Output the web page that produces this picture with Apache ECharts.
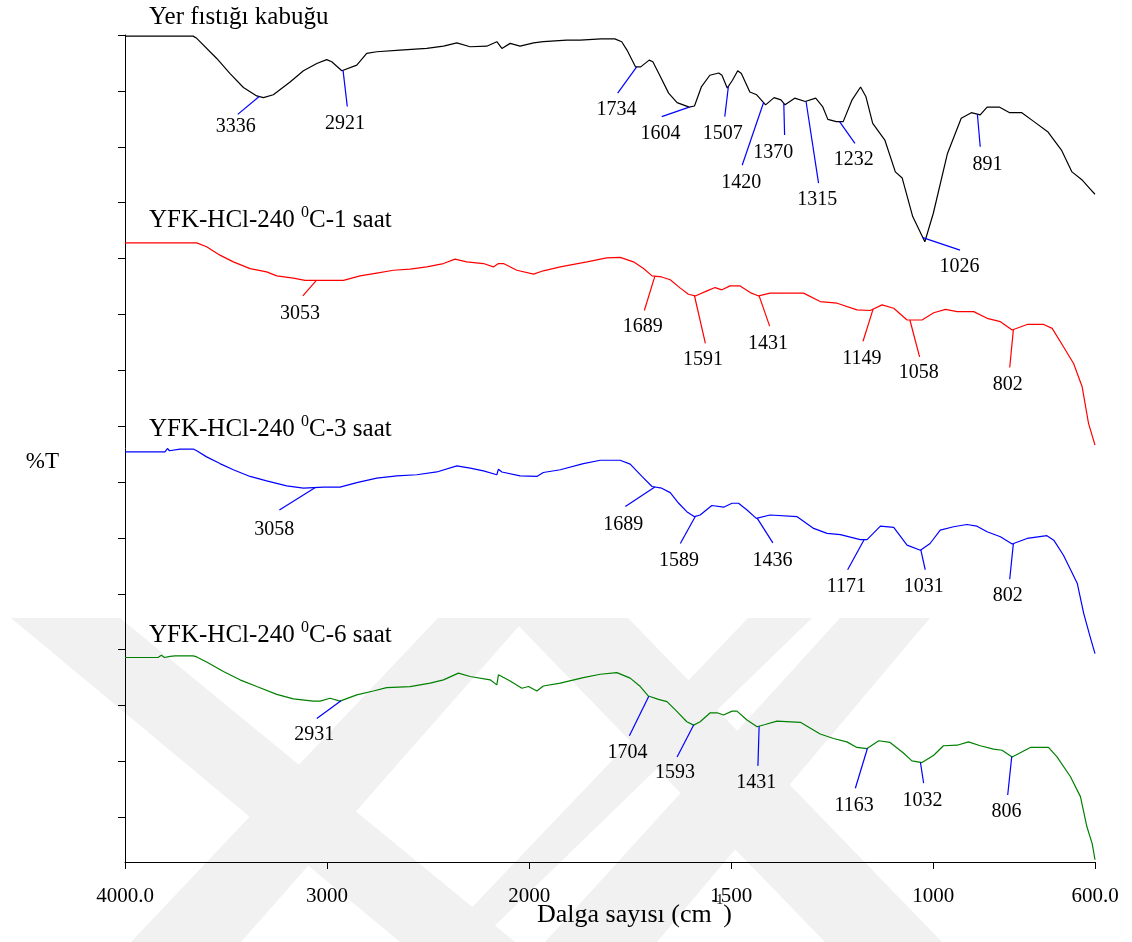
<!DOCTYPE html>
<html>
<head>
<meta charset="utf-8">
<title>FTIR - Yer fıstığı kabuğu</title>
<script src="https://cdn.jsdelivr.net/npm/echarts@6/dist/echarts.min.js"></script>
<style>
  html, body { margin: 0; padding: 0; background: #fff; }
  #ftir { width: 1132px; height: 942px; }
</style>
</head>
<body>
<div id="ftir"></div>
<script>
// wavenumber axis: 1000 cm-1 per division above 2000, 500 cm-1 per division below
const xTickNums = [4000, 3000, 2000, 1500, 1000, 600];
const xTickLabels = ['4000.0', '3000', '2000', '1500', '1000', '600.0'];
const yTicks = [0.8, 1.8, 2.8, 3.8, 4.8, 5.8, 6.8, 7.8, 8.8, 9.8, 10.8, 11.8, 12.8, 13.8, 14.8];

// [wavenumber, %T (offset)]
const rawShell = [
  [4000, 14.78], [3663, 14.78], [3645, 14.74], [3546, 14.38], [3480, 14.11], [3414, 13.86], [3348, 13.71],
  [3315, 13.68], [3266, 13.73], [3183, 13.96], [3117, 14.16], [3051, 14.29], [3002, 14.36], [2977, 14.32],
  [2927, 14.16], [2853, 14.26], [2804, 14.47], [2754, 14.50], [2639, 14.53], [2507, 14.56], [2424, 14.60],
  [2358, 14.66], [2292, 14.59], [2210, 14.60], [2160, 14.68], [2135, 14.56], [2094, 14.65], [2045, 14.60],
  [1989, 14.66], [1965, 14.68], [1907, 14.71], [1874, 14.71], [1822, 14.73], [1788, 14.73], [1771, 14.68],
  [1758, 14.53], [1737, 14.23], [1724, 14.23], [1703, 14.35], [1694, 14.32], [1677, 14.08], [1655, 13.76],
  [1634, 13.59], [1604, 13.51], [1591, 13.53], [1574, 13.87], [1553, 14.08], [1531, 14.12], [1523, 14.08],
  [1510, 13.85], [1497, 13.99], [1484, 14.16], [1475, 14.11], [1454, 13.78], [1437, 13.73], [1415, 13.55],
  [1394, 13.68], [1377, 13.64], [1367, 13.55], [1343, 13.67], [1317, 13.61], [1291, 13.67], [1274, 13.52],
  [1261, 13.29], [1240, 13.25], [1223, 13.25], [1201, 13.64], [1180, 13.87], [1167, 13.70], [1150, 13.22],
  [1120, 12.92], [1094, 12.35], [1077, 12.24], [1051, 11.55], [1021, 11.10], [1000, 11.61], [965, 12.68],
  [931, 13.31], [906, 13.41], [884, 13.37], [867, 13.51], [837, 13.51], [811, 13.41], [781, 13.41],
  [751, 13.25], [717, 13.07], [683, 12.74], [657, 12.35], [631, 12.20], [610, 12.03], [600, 11.95]
];
const hcl1h = [
  [4000, 11.08], [3663, 11.08], [3645, 11.08], [3596, 11.01], [3530, 10.86], [3464, 10.74], [3381, 10.62],
  [3299, 10.56], [3249, 10.49], [3167, 10.45], [3109, 10.41], [2919, 10.41], [2837, 10.49], [2754, 10.54],
  [2672, 10.59], [2589, 10.61], [2507, 10.65], [2424, 10.71], [2367, 10.79], [2309, 10.74], [2226, 10.71],
  [2177, 10.65], [2152, 10.71], [2127, 10.71], [2061, 10.59], [1989, 10.52], [1965, 10.58], [1923, 10.65],
  [1857, 10.74], [1808, 10.81], [1775, 10.82], [1742, 10.74], [1717, 10.62], [1696, 10.49], [1672, 10.47],
  [1651, 10.42], [1626, 10.27], [1606, 10.16], [1589, 10.13], [1560, 10.22], [1540, 10.28], [1523, 10.24],
  [1503, 10.31], [1478, 10.31], [1453, 10.19], [1432, 10.13], [1404, 10.18], [1321, 10.18], [1280, 10.03],
  [1238, 10.00], [1189, 9.88], [1156, 9.87], [1127, 9.97], [1098, 9.91], [1065, 9.70], [1028, 9.70],
  [999, 9.83], [970, 9.89], [941, 9.85], [900, 9.85], [867, 9.73], [834, 9.67], [805, 9.52], [768, 9.62],
  [727, 9.62], [706, 9.55], [678, 9.22], [653, 8.92], [632, 8.51], [616, 7.85], [600, 7.46]
];
const hcl3h = [
  [4000, 7.34], [3802, 7.34], [3790, 7.40], [3780, 7.36], [3728, 7.39], [3662, 7.39], [3645, 7.36],
  [3596, 7.25], [3530, 7.13], [3464, 7.02], [3381, 6.90], [3299, 6.82], [3200, 6.73], [3117, 6.69],
  [3018, 6.71], [2936, 6.71], [2853, 6.79], [2754, 6.87], [2655, 6.91], [2556, 6.93], [2457, 6.98],
  [2358, 7.09], [2292, 7.05], [2226, 7.00], [2160, 6.93], [2152, 7.03], [2135, 6.98], [2045, 6.91],
  [1981, 6.90], [1965, 6.97], [1923, 7.02], [1866, 7.13], [1824, 7.19], [1775, 7.19], [1750, 7.12],
  [1721, 6.90], [1696, 6.72], [1672, 6.69], [1651, 6.61], [1630, 6.42], [1610, 6.27], [1591, 6.18],
  [1577, 6.21], [1548, 6.38], [1519, 6.35], [1498, 6.42], [1482, 6.42], [1461, 6.30], [1438, 6.15],
  [1404, 6.21], [1337, 6.18], [1296, 5.97], [1263, 5.88], [1230, 5.86], [1181, 5.77], [1164, 5.77],
  [1131, 6.01], [1098, 5.99], [1065, 5.67], [1032, 5.58], [1008, 5.70], [983, 5.94], [950, 6.00],
  [917, 6.04], [892, 6.01], [867, 5.91], [834, 5.82], [805, 5.69], [768, 5.79], [719, 5.84], [702, 5.76],
  [678, 5.49], [644, 4.99], [628, 4.45], [612, 4.03], [600, 3.73]
];
const hcl6h = [
  [4000, 3.66], [3837, 3.66], [3820, 3.70], [3805, 3.66], [3777, 3.68], [3752, 3.69], [3662, 3.69],
  [3645, 3.67], [3596, 3.58], [3513, 3.41], [3431, 3.26], [3348, 3.14], [3249, 3.00], [3167, 2.92],
  [3068, 2.88], [3035, 2.88], [2985, 2.93], [2936, 2.88], [2853, 2.99], [2771, 3.06], [2705, 3.12],
  [2589, 3.14], [2490, 3.20], [2424, 3.26], [2350, 3.38], [2292, 3.32], [2193, 3.26], [2160, 3.17],
  [2152, 3.35], [2094, 3.24], [2036, 3.11], [2003, 3.14], [1981, 3.06], [1965, 3.15], [1923, 3.20],
  [1866, 3.30], [1824, 3.36], [1783, 3.39], [1750, 3.29], [1725, 3.14], [1705, 2.97], [1680, 2.91],
  [1659, 2.87], [1634, 2.69], [1610, 2.51], [1593, 2.45], [1577, 2.51], [1552, 2.67], [1535, 2.67],
  [1519, 2.63], [1498, 2.70], [1486, 2.70], [1461, 2.54], [1436, 2.42], [1416, 2.46], [1387, 2.52],
  [1329, 2.50], [1280, 2.29], [1247, 2.21], [1214, 2.15], [1189, 2.05], [1164, 2.03], [1135, 2.17],
  [1107, 2.14], [1074, 1.95], [1053, 1.81], [1028, 1.78], [999, 1.91], [975, 2.08], [941, 2.09],
  [913, 2.15], [884, 2.08], [851, 2.02], [830, 2.00], [805, 1.88], [760, 2.05], [715, 2.05], [694, 1.88],
  [661, 1.53], [636, 1.17], [620, 0.63], [607, 0.33], [600, 0.04]
];

// peak labels: [peak, leader end wn, leader end %T, label wn, label %T]
const rawPeaks = [
  [3336, 3442, 13.38, 3452, 13.15], [2921, 2900, 13.52, 2911, 13.22], [1734, 1781, 13.76, 1784, 13.46],
  [1604, 1672, 13.34, 1675, 13.04], [1507, 1516, 13.34, 1521, 13.04], [1420, 1473, 12.47, 1475, 12.15],
  [1370, 1368, 13.01, 1396, 12.69], [1315, 1284, 12.15, 1287, 11.85], [1232, 1194, 12.86, 1197, 12.56],
  [1026, 934, 10.95, 935, 10.65], [891, 884, 12.80, 866, 12.47]
];
const hcl1Peaks = [
  [3053, 3120, 10.13, 3134, 9.82], [1689, 1715, 9.87, 1719, 9.57], [1591, 1564, 9.28, 1570, 8.98],
  [1431, 1405, 9.59, 1409, 9.28], [1149, 1174, 9.32, 1177, 9.01], [1058, 1034, 9.04, 1036, 8.76],
  [802, 811, 8.85, 816, 8.54]
];
const hcl3Peaks = [
  [3058, 3236, 6.30, 3262, 5.94], [1689, 1762, 6.36, 1767, 6.03], [1589, 1626, 5.70, 1629, 5.39],
  [1436, 1397, 5.71, 1398, 5.39], [1171, 1212, 5.23, 1215, 4.93], [1031, 1020, 5.23, 1024, 4.93],
  [802, 811, 5.06, 816, 4.76]
];
const hcl6Peaks = [
  [2931, 3051, 2.57, 3064, 2.27], [1704, 1752, 2.26, 1757, 1.96], [1593, 1634, 1.88, 1639, 1.59],
  [1431, 1434, 1.72, 1438, 1.41], [1163, 1193, 1.32, 1196, 1.01], [1032, 1024, 1.41, 1027, 1.10],
  [806, 816, 1.20, 819, 0.90]
];

const SERIF = "'Liberation Serif', 'Times New Roman', serif";

// axis position of a wavenumber
function toU(w) {
  return w >= 2000 ? (4000 - w) / 1000 : 2 + (2000 - w) / 500;
}

function valueAt(pts, w) {
  for (let i = 0; i < pts.length - 1; i++) {
    const a = pts[i], b = pts[i + 1];
    if (w <= a[0] && w >= b[0]) {
      return a[1] + (b[1] - a[1]) * (a[0] - w) / (a[0] - b[0]);
    }
  }
  return pts[pts.length - 1][1];
}

function spectrum(name, pts, color, peaks, leader) {
  return {
    name: name,
    type: 'line',
    data: pts.map(p => [toU(p[0]), p[1]]),
    showSymbol: false,
    symbol: 'none',
    silent: true,
    lineStyle: { color: color, width: 1.2 },
    itemStyle: { color: color },
    markLine: {
      silent: true,
      symbol: ['none', 'none'],
      label: { show: false },
      lineStyle: { color: leader, width: 1.2, type: 'solid' },
      data: peaks.map(p => [
        { coord: [toU(p[0]), valueAt(pts, p[0])] },
        { coord: [toU(p[1]), p[2]] }
      ])
    },
    markPoint: {
      silent: true,
      symbol: 'circle',
      symbolSize: 1,
      itemStyle: { color: 'rgba(0,0,0,0)' },
      label: {
        show: true, position: 'inside', formatter: '{b}',
        color: '#000', fontSize: 20, fontFamily: SERIF
      },
      data: peaks.map(p => ({ name: String(p[0]), coord: [toU(p[3]), p[4]] }))
    }
  };
}

// faint thesis watermark behind the plot
const watermark = [
  [[11, 618], [120, 618], [515, 942], [400, 942]],
  [[438, 618], [526, 618], [241, 942], [131, 942]],
  [[748, 618], [812, 618], [478, 942], [439, 942]],
  [[511, 618], [628, 618], [942, 942], [825, 942]],
  [[840, 618], [930, 618], [657, 942], [545, 942]]
].map(pts => ({
  type: 'polygon', silent: true, z: -10,
  shape: { points: pts },
  style: { fill: '#f1f1f1' }
}));

const titleRich = {
  a: { fontSize: 25, fontFamily: SERIF, lineHeight: 28, verticalAlign: 'bottom', fill: '#000' },
  s: { fontSize: 16, fontFamily: SERIF, lineHeight: 16, verticalAlign: 'top', fill: '#000' }
};
const titles = [
  ['{a|Yer fıstığı kabuğu}', 5],
  ['{a|YFK-HCl-240 }{s|0}{a|C-1 saat}', 205],
  ['{a|YFK-HCl-240 }{s|0}{a|C-3 saat}', 414],
  ['{a|YFK-HCl-240 }{s|0}{a|C-6 saat}', 620]
].map(t => ({
  type: 'text', left: 149, top: t[1], z: 10,
  style: { text: t[0], rich: titleRich, fill: '#000' }
}));

const chart = echarts.init(document.getElementById('ftir'));
chart.setOption({
  backgroundColor: '#fff',
  animation: false,
  grid: { left: 125, right: 37, top: 35, bottom: 80, outerBoundsMode: 'none' },
  xAxis: {
    type: 'value', min: 0, max: 4.8, interval: 1,
    axisLine: { show: true, lineStyle: { color: '#000', width: 1 } },
    axisTick: { show: true, length: 7, customValues: xTickNums.map(toU), lineStyle: { color: '#000' } },
    axisLabel: {
      customValues: xTickNums.map(toU), margin: 24,
      color: '#000', fontSize: 21, fontFamily: SERIF,
      formatter: function (v) {
        for (let i = 0; i < xTickNums.length; i++) {
          if (Math.abs(toU(xTickNums[i]) - v) < 1e-6) return xTickLabels[i];
        }
        return '';
      }
    },
    splitLine: { show: false },
    name: '{a|Dalga sayısı (cm}{s|-1}{a|)}',
    nameLocation: 'middle',
    nameGap: 31,
    nameMoveOverlap: false,
    nameTextStyle: {
      padding: [0, 0, 0, 49],
      rich: {
        a: { fontSize: 26, fontFamily: SERIF, color: '#000', lineHeight: 44, verticalAlign: 'middle' },
        s: { fontSize: 14, fontFamily: SERIF, color: '#000', lineHeight: 14, verticalAlign: 'top' }
      }
    }
  },
  yAxis: {
    type: 'value', min: 0, max: 14.8,
    axisLine: { show: true, lineStyle: { color: '#000', width: 1 } },
    axisTick: { show: true, length: 7, customValues: yTicks, lineStyle: { color: '#000' } },
    axisLabel: { show: false },
    splitLine: { show: false },
    name: '%T',
    nameLocation: 'middle',
    nameRotate: 0,
    nameGap: 66,
    nameMoveOverlap: false,
    nameTextStyle: { color: '#000', fontSize: 23, fontFamily: SERIF, verticalAlign: 'top', lineHeight: 26 }
  },
  graphic: watermark.concat(titles),
  series: [
    spectrum('Yer fıstığı kabuğu', rawShell, '#000000', rawPeaks, '#0000ff'),
    spectrum('YFK-HCl-240 0C-1 saat', hcl1h, '#ff0000', hcl1Peaks, '#ff0000'),
    spectrum('YFK-HCl-240 0C-3 saat', hcl3h, '#0000ff', hcl3Peaks, '#0000ff'),
    spectrum('YFK-HCl-240 0C-6 saat', hcl6h, '#008000', hcl6Peaks, '#0000ff')
  ]
});

window.addEventListener('resize', function () {
  chart.resize();
});
</script>
</body>
</html>
